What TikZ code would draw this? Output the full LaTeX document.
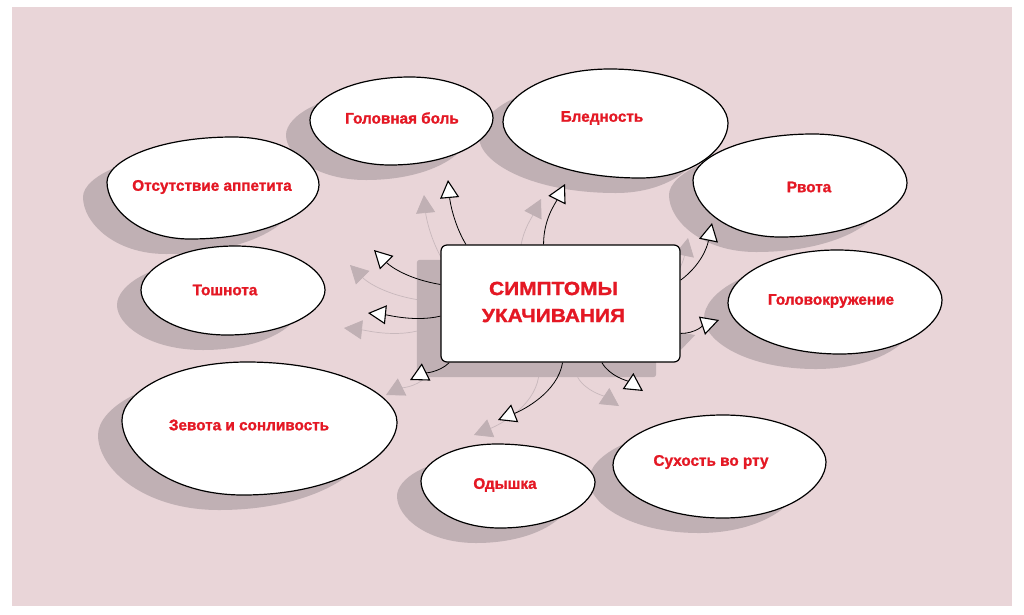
\documentclass[tikz,border=0pt]{standalone}
\usepackage{fontspec}
\setmainfont{Liberation Sans}[BoldFeatures={FakeBold=1.3}]
\newfontfamily\titlefont{Liberation Sans}[FakeStretch=1.1, BoldFeatures={FakeBold=1.5}]
\usetikzlibrary{arrows.meta,calc}

\definecolor{bgpink}{RGB}{233,213,216}
\definecolor{shadowc}{RGB}{192,176,180}
\definecolor{shadowline}{RGB}{200,184,188}
\definecolor{labelred}{RGB}{228,24,36}

% egg-shaped blob through left, top, right, bottom points
\newcommand\egg[9]{\path[#1] (#2,#3) .. controls (#2,{#3+0.45*(#5-#3)}) and ({#4-0.62*(#4-#2)},#5) .. (#4,#5) .. controls ({#4+0.62*(#6-#4)},#5) and (#6,{#7+0.45*(#5-#7)}) .. (#6,#7) .. controls (#6,{#7+0.45*(#9-#7)}) and ({#8+0.62*(#6-#8)},#9) .. (#8,#9) .. controls ({#8-0.62*(#8-#2)},#9) and (#2,{#3+0.45*(#9-#3)}) .. (#2,#3) -- cycle;}
\newcommand\blob[8]{%
  \egg{fill=shadowc, shift={(-24,15)}}{#1}{#2}{#3}{#4}{#5}{#6}{#7}{#8}%
}
\newcommand\blobtop[8]{%
  \egg{draw=black, fill=white, line width=1.2pt}{#1}{#2}{#3}{#4}{#5}{#6}{#7}{#8}%
}

\tikzset{
  lbl/.style={font=\fontsize{15.3}{18}\selectfont\bfseries, text=labelred, inner sep=0pt},
  boxsize/.style={minimum width=239pt, minimum height=117pt, inner sep=0pt},
  titlebox/.style={boxsize, draw=black, fill=white, line width=1.2pt, rounded corners=6pt},
  titletext/.style={align=center, inner sep=0pt,
    font=\titlefont\fontsize{19}{27}\selectfont\bfseries, text=labelred},
  conn/.style={line width=0.8pt, draw=black,
    -{Triangle[length=18pt,width=19pt,fill=white,line width=1.1pt]}},
  shconn/.style={line width=0.7pt, draw=shadowline,
    -{Triangle[length=18pt,width=19pt,fill=shadowc,color=shadowc]}}
}

\begin{document}
\begin{tikzpicture}[x=1pt,y=-1pt]
\useasboundingbox (0,0) rectangle (1024,614);
\fill[white] (0,0) rectangle (1024,614);
\fill[bgpink] (12,7) rectangle (1012,606);

% blob shadows
\blob{310}{120}{410}{77}{493}{118}{390}{165}
\blob{503}{122}{610}{69}{728}{123}{640}{178}
\blob{107}{182}{233}{137}{319}{185}{190}{239}
\blob{693}{180}{813}{134}{907}{183}{780}{237}
\blob{141}{290}{235}{246}{325}{290}{227}{335}
\blob{728}{303}{837}{250}{942}{300}{840}{354}
\blob{122}{420}{247}{362}{397}{422}{243}{495}
\blob{421}{481}{497}{444}{595}{482}{500}{528}
\blob{613}{465}{723}{415}{826}{462}{723}{518}

% area of the central box and tip coordinates
\path node[boxsize] (boxarea) at (560.5,303.5) {};
\coordinate (tA) at (448,180);
\coordinate (tB) at (565,184);
\coordinate (tC) at (374,250);
\coordinate (tD) at (368,313);
\coordinate (tE) at (410,380);
\coordinate (tF) at (498,420);
\coordinate (tG) at (643,391);
\coordinate (tH) at (712,223);
\coordinate (tI) at (719,320);

% shadow arrows
\draw[shconn] ($(boxarea.148.5)+(-24,15)$) .. controls +(-12,-20) and +(2,22) .. ($(tA)+(-24,15)$);
\draw[shconn] ($(boxarea.106.7)+(-24,15)$) .. controls +(0,-25) and +(-10,20) .. ($(tB)+(-24,15)$);
\draw[shconn] ($(boxarea.171.2)+(-24,15)$) .. controls +(-30,-5) and +(18,18) .. ($(tC)+(-24,15)$);
\draw[shconn] ($(boxarea.186)+(-24,15)$) .. controls +(-25,6) and +(20,2) .. ($(tD)+(-24,15)$);
\draw[shconn] ($(boxarea.208.3)+(-24,15)$) .. controls +(-10,10) and +(12,-6) .. ($(tE)+(-24,15)$);
\draw[shconn] ($(boxarea.272.4)+(-24,15)$) .. controls +(-5,30) and +(25,-10) .. ($(tF)+(-24,15)$);
\draw[shconn] ($(boxarea.305.4)+(-24,15)$) .. controls +(8,14) and +(-15,-10) .. ($(tG)+(-24,15)$);
\draw[shconn] ($(boxarea.11.1)+(-24,15)$) .. controls +(20,-15) and +(-5,25) .. ($(tH)+(-24,15)$);
\draw[shconn] ($(boxarea.346.6)+(-24,15)$) .. controls +(15,0) and +(-15,5) .. ($(tI)+(-24,15)$);

% box shadow
\fill[shadowc, rounded corners=3pt] ($(boxarea.south west)+(-24,15)$) rectangle ($(boxarea.north east)+(-24,15)$);

% blobs
\blobtop{310}{120}{410}{77}{493}{118}{390}{165}
\blobtop{503}{122}{610}{69}{728}{123}{640}{178}
\blobtop{107}{182}{233}{137}{319}{185}{190}{239}
\blobtop{693}{180}{813}{134}{907}{183}{780}{237}
\blobtop{141}{290}{235}{246}{325}{290}{227}{335}
\blobtop{728}{303}{837}{250}{942}{300}{840}{354}
\blobtop{122}{420}{247}{362}{397}{422}{243}{495}
\blobtop{421}{481}{497}{444}{595}{482}{500}{528}
\blobtop{613}{465}{723}{415}{826}{462}{723}{518}

% labels
\node[lbl] (headache) at (402,118) {Головная боль};
\node[lbl] (pale) at (602,118) {Бледность};
\node[lbl] (appetite) at (212,187) {Отсутствие аппетита};
\node[lbl] (vomit) at (809,187) {Рвота};
\node[lbl] (nausea) at (225,290) {Тошнота};
\node[lbl] (dizzy) at (831,301) {Головокружение};
\node[lbl] (yawn) at (249,425) {Зевота и сонливость};
\node[lbl] (breath) at (505,485) {Одышка};
\node[lbl] (dry) at (711,462) {Сухость во рту};

% central box
\node[titlebox] (box) at (boxarea.center) {};
\node[titletext] (title) at (553.5,302) {СИМПТОМЫ\\УКАЧИВАНИЯ};

% arrows
\draw[conn] (box.148.5) .. controls +(-12,-20) and +(2,22) .. (tA);
\draw[conn] (box.106.7) .. controls +(0,-25) and +(-10,20) .. (tB);
\draw[conn] (box.171.2) .. controls +(-30,-5) and +(18,18) .. (tC);
\draw[conn] (box.186) .. controls +(-25,6) and +(20,2) .. (tD);
\draw[conn] (box.208.3) .. controls +(-10,10) and +(12,-6) .. (tE);
\draw[conn] (box.272.4) .. controls +(-5,30) and +(25,-10) .. (tF);
\draw[conn] (box.305.4) .. controls +(8,14) and +(-15,-10) .. (tG);
\draw[conn] (box.11.1) .. controls +(20,-15) and +(-5,25) .. (tH);
\draw[conn] (box.346.6) .. controls +(15,0) and +(-15,5) .. (tI);
\end{tikzpicture}
\end{document}
